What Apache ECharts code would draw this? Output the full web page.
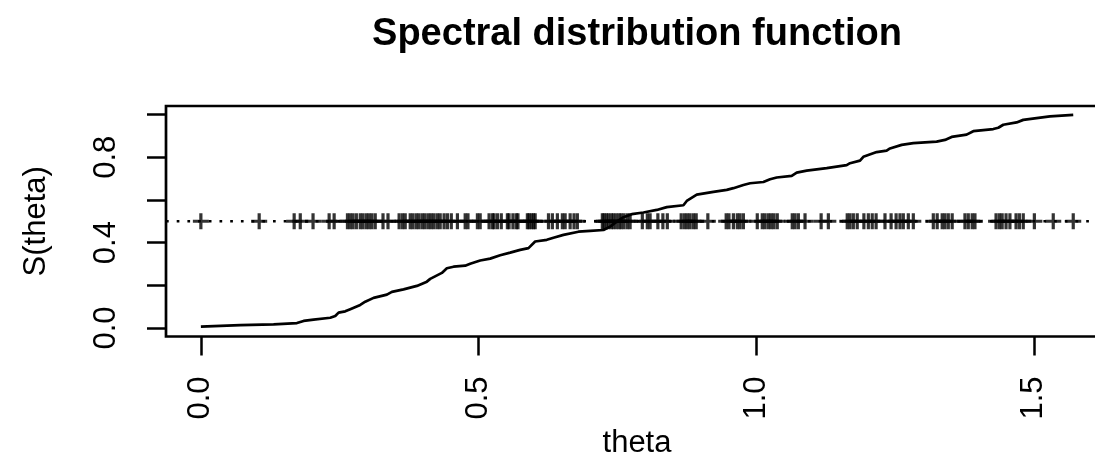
<!DOCTYPE html>
<html>
<head>
<meta charset="utf-8">
<script src="https://cdn.jsdelivr.net/npm/echarts@6/dist/echarts.min.js"></script>
<style>
  html, body { margin: 0; padding: 0; background: #fff; }
  #chart { width: 1095px; height: 456px; }
</style>
</head>
<body>
<div id="chart"></div>
<script>
// spectral distribution curve (theta, S(theta))
const thetaCurve = [0.000, 0.071, 0.131, 0.173, 0.185, 0.203, 0.233, 0.242, 0.248, 0.260,
  0.269, 0.287, 0.296, 0.311, 0.335, 0.344, 0.365, 0.389, 0.407, 0.413,
  0.434, 0.443, 0.455, 0.476, 0.485, 0.503, 0.521, 0.539, 0.557, 0.575,
  0.590, 0.602, 0.623, 0.635, 0.653, 0.680, 0.701, 0.725, 0.737, 0.749,
  0.761, 0.776, 0.797, 0.821, 0.839, 0.869, 0.875, 0.893, 0.923, 0.947,
  0.959, 0.977, 0.989, 1.013, 1.025, 1.037, 1.064, 1.073, 1.091, 1.127,
  1.163, 1.169, 1.187, 1.193, 1.217, 1.235, 1.241, 1.262, 1.283, 1.325,
  1.340, 1.352, 1.379, 1.391, 1.427, 1.436, 1.445, 1.469, 1.481, 1.505,
  1.529, 1.571]
const sCurve = [0.006, 0.013, 0.017, 0.023, 0.033, 0.039, 0.048, 0.056, 0.072, 0.078,
  0.088, 0.108, 0.123, 0.141, 0.156, 0.169, 0.181, 0.197, 0.217, 0.230,
  0.258, 0.280, 0.287, 0.292, 0.301, 0.316, 0.325, 0.341, 0.353, 0.366,
  0.374, 0.405, 0.413, 0.423, 0.436, 0.451, 0.455, 0.459, 0.475, 0.498,
  0.519, 0.533, 0.541, 0.553, 0.566, 0.575, 0.595, 0.625, 0.638, 0.647,
  0.655, 0.670, 0.678, 0.684, 0.697, 0.705, 0.713, 0.728, 0.737, 0.749,
  0.763, 0.772, 0.784, 0.802, 0.824, 0.831, 0.841, 0.858, 0.866, 0.873,
  0.881, 0.895, 0.906, 0.922, 0.932, 0.938, 0.952, 0.963, 0.975, 0.983,
  0.991, 0.998]

// theta values marked with "+" on the 0.5 line
const thetaPts = [0.000, 0.105, 0.168, 0.179, 0.202, 0.231, 0.240,
  0.264, 0.269, 0.274, 0.280, 0.287, 0.292, 0.298, 0.303, 0.308, 0.314,
  0.328, 0.337, 0.357, 0.363, 0.368,
  0.377, 0.382, 0.388, 0.393, 0.399, 0.404, 0.410, 0.415, 0.420, 0.426, 0.431, 0.438, 0.444, 0.451,
  0.462, 0.476, 0.481, 0.498, 0.503,
  0.519, 0.525, 0.528, 0.534, 0.541, 0.552, 0.555, 0.562, 0.568, 0.571,
  0.588, 0.591, 0.595, 0.599, 0.602, 0.626, 0.633, 0.642, 0.651, 0.656,
  0.665, 0.672, 0.678,
  0.723, 0.726, 0.730, 0.734, 0.739, 0.743, 0.748, 0.753, 0.757, 0.762, 0.768, 0.773,
  0.795, 0.804, 0.809, 0.823, 0.832, 0.840,
  0.865, 0.871, 0.876, 0.881, 0.887, 0.892, 0.913,
  0.946, 0.951, 0.959, 0.966, 0.971, 0.977,
  1.002, 1.011, 1.016, 1.022, 1.027, 1.032, 1.038,
  1.065, 1.070, 1.076, 1.088, 1.117, 1.130,
  1.164, 1.169, 1.175, 1.182, 1.194, 1.202, 1.209, 1.216, 1.232,
  1.243, 1.252, 1.259, 1.265, 1.274, 1.283,
  1.319, 1.326, 1.335, 1.340, 1.346, 1.353,
  1.376, 1.382, 1.389, 1.394,
  1.432, 1.438, 1.443, 1.450, 1.457, 1.468, 1.474, 1.481,
  1.501, 1.535, 1.571]

const refLevel = 0.5
const xTicks = [0, 0.5, 1.0, 1.5]
const yTicks = [0, 0.2, 0.4, 0.6, 0.8, 1.0]
const yLabels = [0, 0.4, 0.8]

// R style axis range (4% padding)
const xMin = -0.0628
const xMax = 1.6336
const yMin = -0.04
const yMax = 1.04

const font = '"Liberation Sans", Arial, Helvetica, sans-serif'

const chart = echarts.init(document.getElementById('chart'), null, { renderer: 'canvas' })

const option = {
  animation: false,
  backgroundColor: '#fff',
  title: {
    text: 'Spectral distribution function',
    left: 632,
    top: 11,
    textAlign: 'center',
    textStyle: {
      fontFamily: font,
      fontSize: 38,
      fontWeight: 'bold',
      color: '#000',
      lineHeight: 38
    }
  },
  grid: {
    left: 166,
    top: 106,
    width: 942,
    height: 230.5,
    containLabel: false,
    outerBoundsMode: 'none',
    show: true,
    borderColor: '#000',
    borderWidth: 2.7,
    backgroundColor: 'transparent'
  },
  xAxis: {
    type: 'value',
    min: xMin,
    max: xMax,
    name: 'theta',
    nameLocation: 'middle',
    nameGap: 83,
    nameTextStyle: { fontFamily: font, fontSize: 31, color: '#000', lineHeight: 31 },
    axisLine: { show: false, onZero: false },
    splitLine: { show: false },
    axisTick: {
      show: true,
      inside: false,
      length: 19,
      customValues: xTicks,
      lineStyle: { color: '#000', width: 2.5 }
    },
    axisLabel: {
      customValues: xTicks,
      rotate: 90,
      margin: 40,
      fontFamily: font,
      fontSize: 31,
      color: '#000',
      formatter: v => v.toFixed(1)
    }
  },
  yAxis: {
    type: 'value',
    min: yMin,
    max: yMax,
    name: 'S(theta)',
    nameLocation: 'middle',
    nameRotate: 90,
    nameGap: 114,
    nameTextStyle: { fontFamily: font, fontSize: 31, color: '#000', lineHeight: 31 },
    axisLine: { show: false, onZero: false },
    splitLine: { show: false },
    axisTick: {
      show: true,
      inside: false,
      length: 19,
      customValues: yTicks,
      lineStyle: { color: '#000', width: 2.5 }
    },
    axisLabel: {
      customValues: yLabels,
      rotate: 90,
      margin: 44,
      fontFamily: font,
      fontSize: 31,
      color: '#000',
      formatter: v => v.toFixed(1)
    }
  },
  series: [
    {
      // dotted horizontal reference line
      type: 'line',
      data: [[xMin, refLevel], [xMax, refLevel]],
      showSymbol: false,
      silent: true,
      lineStyle: { color: '#000', width: 2.7, type: [2.7, 8] },
      z: 1
    },
    {
      type: 'scatter',
      data: thetaPts.map(t => [t, refLevel]),
      symbol: 'path://M-1.6,-8H1.6V-1.6H8V1.6H1.6V8H-1.6V1.6H-8V-1.6H-1.6Z',
      symbolSize: 16,
      itemStyle: { color: '#000' },
      z: 2
    },
    {
      type: 'line',
      data: thetaCurve.map((t, i) => [t, sCurve[i]]),
      showSymbol: false,
      lineStyle: { color: '#000', width: 2.7 },
      z: 3
    }
  ]
}

chart.setOption(option)
</script>
</body>
</html>
